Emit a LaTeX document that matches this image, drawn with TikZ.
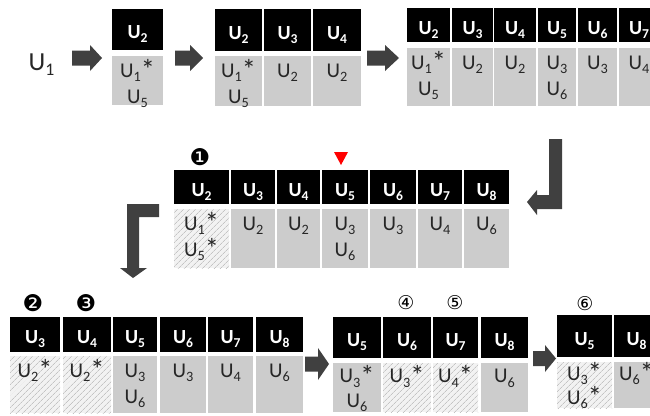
\documentclass[tikz,border=0pt]{standalone}
\usepackage{fontspec}
\setmainfont{Carlito}
\newfontfamily\djv{DejaVu Sans}
\usepackage{graphicx}
\usetikzlibrary{patterns.meta}
\definecolor{cellgray}{HTML}{CCCCCC}
\definecolor{arrowgray}{HTML}{404040}
\definecolor{hatchbg}{HTML}{F2F2F2}
\definecolor{hatchline}{HTML}{C4C4C4}
\definecolor{txt}{HTML}{262626}
\newcommand\uu[1]{U\raisebox{-0.22em}{\scalebox{0.68}{#1}}}
\newcommand\st{\raisebox{-0.12em}{\scalebox{1.35}{*}}}
\newcommand\two[3][26pt]{\vtop{\baselineskip=#1\lineskiplimit=-10pt\halign{\hfil##\hfil\cr#2\cr#3\cr}}}
\tikzset{
 hd/.style={fill=black, inner sep=0pt, text=white, font=\fontsize{20}{24}\selectfont\bfseries, text height=18pt, text depth=0pt},
 bg/.style={fill=cellgray, inner sep=0pt},
 hb/.style={inner sep=0pt, preaction={fill=hatchbg}, pattern={Lines[angle=45,distance=4pt,line width=0.7pt]}, pattern color=hatchline},
 bt/.style={inner sep=0pt, text=txt, font=\fontsize{21}{26}\selectfont, anchor=base},
 blk/.style={fill=arrowgray, draw=none},
 circneg/.style={font=\djv\fontsize{23}{23}\selectfont, inner sep=0pt},
 circpos/.style={font=\djv\fontsize{19}{19}\selectfont, inner sep=0pt},
}
% name, x, w, header digit, body style, body text
\newcommand\tcol[6]{%
 \node[hd, minimum width=#3pt, minimum height=\tHh pt] (#1h) at (#2+#3/2, \tHy+\tHh/2) {\uu{#4}};
 \node[#5, minimum width=#3pt, minimum height=\tBh pt] (#1b) at (#2+#3/2, \tBy+\tBh/2) {};
 \node[bt] (#1t) at (#2+#3/2, \tBy+\tOff) {#6};
}
\begin{document}
\begin{tikzpicture}[x=1pt,y=-1pt]
\fill[white] (0,0) rectangle (650,415);
\clip (0,0) rectangle (650,415);
\def\tOff{21}
% U1 label
\node[bt, font=\fontsize{26}{26}\selectfont] (u1) at (41.5,70) {\uu{1}};
% top arrows
\fill[blk] (72,50.5) -- (90,50.5) -- (90,45) -- (102,58) -- (90,71) -- (90,65.5) -- (72,65.5) -- cycle;
\fill[blk] (175,50.5) -- (190,50.5) -- (190,45) -- (203,58) -- (190,71) -- (190,65.5) -- (175,65.5) -- cycle;
\fill[blk] (367,50.5) -- (385,50.5) -- (385,45) -- (399,58) -- (385,71) -- (385,65.5) -- (367,65.5) -- cycle;
% table 1
\def\tHy{9}\def\tHh{41}\def\tBy{56}\def\tBh{49}
\tcol{a1}{112}{51}{2}{bg}{\two{\uu{1}\st}{\uu{5}}}
% table 2
\def\tHy{9}\def\tHh{42}\def\tBy{56}\def\tBh{50}
\tcol{b1}{215}{47}{2}{bg}{\two{\uu{1}\st}{\uu{5}}}
\tcol{b2}{264}{47}{3}{bg}{\uu{2}}
\tcol{b3}{313}{48}{4}{bg}{\uu{2}}
% table 3
\def\tHy{8}\def\tHh{34}\def\tBy{48}\def\tBh{58}
\tcol{c1}{407}{43}{2}{bg}{\two{\uu{1}\st}{\uu{5}}}
\tcol{c2}{452}{41}{3}{bg}{\uu{2}}
\tcol{c3}{494}{42}{4}{bg}{\uu{2}}
\tcol{c4}{538}{38}{5}{bg}{\two{\uu{3}}{\uu{6}}}
\tcol{c5}{578}{39}{6}{bg}{\uu{3}}
\tcol{c6}{619}{40}{7}{bg}{\uu{4}}
% bent arrow right
\fill[blk] (549,139) -- (562,139) -- (562,209) -- (537,209) -- (537,215) -- (527,202) -- (537,190) -- (537,195) -- (549,195) -- cycle;
% middle table
\def\tHy{170}\def\tHh{34}\def\tBy{209}\def\tBh{59}
\tcol{d1}{174}{55}{2}{hb}{\two{\uu{1}\st}{\uu{5}\st}}
\tcol{d2}{231}{44}{3}{bg}{\uu{2}}
\tcol{d3}{277}{43}{4}{bg}{\uu{2}}
\tcol{d4}{322}{46}{5}{bg}{\two{\uu{3}}{\uu{6}}}
\tcol{d5}{370}{46}{6}{bg}{\uu{3}}
\tcol{d6}{418}{44}{7}{bg}{\uu{4}}
\tcol{d7}{464}{45}{8}{bg}{\uu{6}}
\node[circneg] (n1) at (200,157) {❶};
\fill[red] (334,152) -- (348,152) -- (341,165) -- cycle;
% bent arrow left
\fill[blk] (159,204) -- (159,217) -- (139,217) -- (139,268) -- (147,268) -- (133,278) -- (120,268) -- (127,268) -- (127,204) -- cycle;
% bottom table 5
\def\tHy{317}\def\tHh{35}\def\tBy{356}\def\tBh{57}
\tcol{e1}{10}{50}{3}{hb}{\uu{2}\st}
\tcol{e2}{63}{48}{4}{hb}{\uu{2}\st}
\tcol{e3}{113}{44}{5}{bg}{\two{\uu{3}}{\uu{6}}}
\tcol{e4}{160}{46}{6}{bg}{\uu{3}}
\tcol{e5}{208}{45}{7}{bg}{\uu{4}}
\tcol{e6}{256}{47}{8}{bg}{\uu{6}}
\node[circneg] (n2) at (33,303) {❷};
\node[circneg] (n3) at (86,303) {❸};
% arrow A
\fill[blk] (305,356.5) -- (318,356.5) -- (318,348) -- (329,364) -- (318,380) -- (318,371.5) -- (305,371.5) -- cycle;
% table 6
\def\tOff{19.5}
\def\tHy{317}\def\tHh{41}\def\tBy{363}\def\tBh{49}
\tcol{f1}{333}{48}{5}{bg}{\two[24.5pt]{\uu{3}\st}{\uu{6}}}
\tcol{f2}{383}{48}{6}{hb}{\uu{3}\st}
\tcol{f3}{433}{45}{7}{hb}{\uu{4}\st}
\tcol{f4}{481}{47}{8}{bg}{\uu{6}}
\node[circpos] (n4) at (406,303) {④};
\node[circpos] (n5) at (455,303) {⑤};
% arrow B
\fill[blk] (533,351) -- (545,351) -- (545,345) -- (556,358.5) -- (545,372) -- (545,366) -- (533,366) -- cycle;
% table 7
\def\tOff{18}
\def\tHy{315}\def\tHh{42}\def\tBy{362}\def\tBh{46}
\tcol{g1}{557}{55}{5}{hb}{\two[24pt]{\uu{3}\st}{\uu{6}\st}}
\tcol{g2}{614}{45}{8}{bg}{\uu{6}\st}
\node[circpos] (n6) at (585,304) {⑥};
\end{tikzpicture}
\end{document}
